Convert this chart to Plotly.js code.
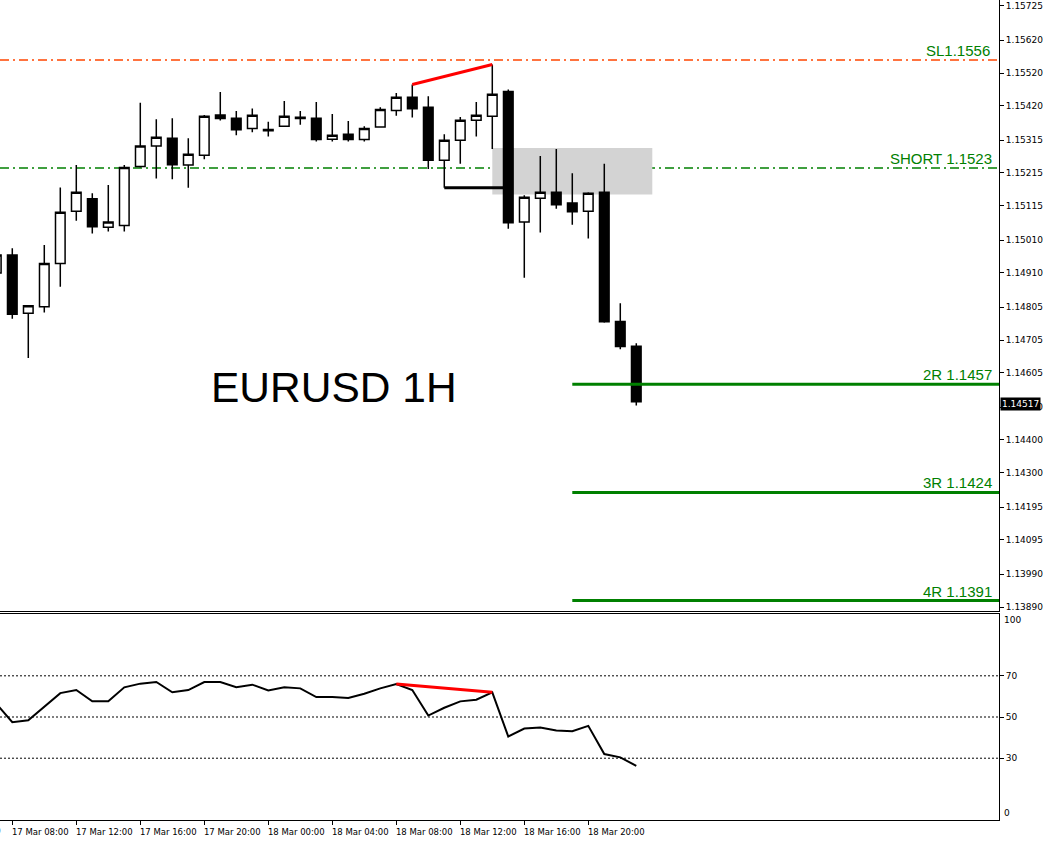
<!DOCTYPE html>
<html>
<head>
<meta charset="utf-8">
<script src="https://cdn.plot.ly/plotly-3.0.1.min.js"></script>
<style>
html,body{margin:0;padding:0;background:#fff;}
#chart{width:1044px;height:841px;}
</style>
</head>
<body>
<div id="chart"></div>
<script>
// ---- Data (EURUSD H1, 17 Mar 07:00 .. 18 Mar 23:00) ----
const times = [
  "2025-03-17 07:00","2025-03-17 08:00","2025-03-17 09:00","2025-03-17 10:00","2025-03-17 11:00",
  "2025-03-17 12:00","2025-03-17 13:00","2025-03-17 14:00","2025-03-17 15:00","2025-03-17 16:00",
  "2025-03-17 17:00","2025-03-17 18:00","2025-03-17 19:00","2025-03-17 20:00","2025-03-17 21:00",
  "2025-03-17 22:00","2025-03-17 23:00","2025-03-18 00:00","2025-03-18 01:00","2025-03-18 02:00",
  "2025-03-18 03:00","2025-03-18 04:00","2025-03-18 05:00","2025-03-18 06:00","2025-03-18 07:00",
  "2025-03-18 08:00","2025-03-18 09:00","2025-03-18 10:00","2025-03-18 11:00","2025-03-18 12:00",
  "2025-03-18 13:00","2025-03-18 14:00","2025-03-18 15:00","2025-03-18 16:00","2025-03-18 17:00",
  "2025-03-18 18:00","2025-03-18 19:00","2025-03-18 20:00","2025-03-18 21:00","2025-03-18 22:00",
  "2025-03-18 23:00"
];
const openP = [
  1.14910,1.14965,1.14787,1.14807,1.14939,1.15098,1.15136,1.15049,1.15055,1.15235,
  1.15297,1.15321,1.15239,1.15269,1.15392,1.15382,1.15351,1.15348,1.15358,1.15385,
  1.15382,1.15318,1.15333,1.15317,1.15355,1.15406,1.15446,1.15416,1.15254,1.15315,
  1.15376,1.15388,1.15464,1.15065,1.15138,1.15156,1.15123,1.15098,1.15156,1.14762,
  1.14686
];
const highP = [
  1.14980,1.14985,1.14812,1.14995,1.15171,1.15239,1.15153,1.15178,1.15239,1.15429,
  1.15379,1.15382,1.15321,1.15392,1.15462,1.15404,1.15412,1.15371,1.15435,1.15404,
  1.15432,1.15395,1.15374,1.15358,1.15416,1.15459,1.15485,1.15449,1.15333,1.15386,
  1.15432,1.15546,1.15470,1.15147,1.15267,1.15288,1.15214,1.15156,1.15243,1.14817,
  1.14695
];
const lowP = [
  1.14904,1.14770,1.14650,1.14789,1.14868,1.15069,1.15030,1.15036,1.15036,1.15232,
  1.15198,1.15196,1.15170,1.15257,1.15375,1.15330,1.15339,1.15326,1.15358,1.15362,
  1.15311,1.15311,1.15311,1.15311,1.15355,1.15390,1.15384,1.15227,1.15170,1.15243,
  1.15326,1.15288,1.15045,1.14895,1.15033,1.15106,1.15057,1.15015,1.14758,1.14677,
  1.14505
];
const closeP = [
  1.14965,1.14784,1.14810,1.14939,1.15095,1.15156,1.15051,1.15065,1.15232,1.15297,
  1.15324,1.15240,1.15272,1.15388,1.15381,1.15347,1.15391,1.15344,1.15388,1.15381,
  1.15317,1.15330,1.15317,1.15351,1.15409,1.15446,1.15411,1.15254,1.15315,1.15376,
  1.15391,1.15455,1.15063,1.15141,1.15156,1.15118,1.15097,1.15153,1.14761,1.14685,
  1.14517
];
const rsiVals = [
  56.5,47.5,48.4,55.1,61.6,63.1,57.6,57.6,64.4,66.2,
  67.0,62.0,63.1,67.0,67.0,64.5,65.7,62.9,64.4,63.9,
  59.7,59.7,59.2,61.3,63.9,66.0,63.1,50.7,54.5,57.6,
  58.4,62.0,40.5,44.4,44.9,43.4,43.1,45.7,32.0,30.4,
  26.3
];
const priceTicks = [1.15725,1.15620,1.15520,1.15420,1.15315,1.15215,1.15115,1.15010,1.14910,
  1.14805,1.14705,1.14605,1.14500,1.14400,1.14300,1.14195,1.14095,1.13990,1.13890];
const priceTickText = priceTicks.map(v => v.toFixed(5));
const timeTicks = ["2025-03-17 08:00","2025-03-17 12:00","2025-03-17 16:00","2025-03-17 20:00",
  "2025-03-18 00:00","2025-03-18 04:00","2025-03-18 08:00","2025-03-18 12:00","2025-03-18 16:00","2025-03-18 20:00"];
const timeTickText = ["17 Mar 08:00","17 Mar 12:00","17 Mar 16:00","17 Mar 20:00",
  "18 Mar 00:00","18 Mar 04:00","18 Mar 08:00","18 Mar 12:00","18 Mar 16:00","18 Mar 20:00"];
const rsiLevels = [70, 50, 30];

// trade levels
const slLevel = 1.1556, shortLevel = 1.1523;
const targetLevels = [1.1457, 1.1424, 1.1391];
const targetNames = ["2R 1.1457", "3R 1.1424", "4R 1.1391"];
const lastPrice = 1.14517;
const zoneTop = 1.15291, zoneBottom = 1.15149;
const zoneStart = "2025-03-18 14:00", zoneEnd = "2025-03-19 00:00";
const divTop = {t0: "2025-03-18 09:00", p0: 1.15485, t1: "2025-03-18 14:00", p1: 1.15546};
const neckLine = {t0: "2025-03-18 11:00", t1: "2025-03-18 15:00", p: 1.15170};
const rsiDiv = {t0: "2025-03-18 08:00", v0: 66.0, t1: "2025-03-18 14:00", v1: 62.0};
const targetStart = "2025-03-18 19:00";

const xRange = ["2025-03-17 07:13:54", "2025-03-19 21:40:09"];
const tickFont = {family: "DejaVu Sans, Verdana, sans-serif", size: 8.5, color: "#000"};
const yTickFont = {family: "DejaVu Sans, Verdana, sans-serif", size: 9, color: "#000"};
const green = "#008000";

const traces = [
  {
    type: "candlestick", x: times, open: openP, high: highP, low: lowP, close: closeP,
    xaxis: "x2", yaxis: "y",
    increasing: {line: {color: "#000", width: 1.5}, fillcolor: "#ffffff"},
    decreasing: {line: {color: "#000", width: 1.5}, fillcolor: "#000000"},
    whiskerwidth: 0, hoverinfo: "skip", showlegend: false
  },
  {
    type: "scatter", mode: "lines", x: times, y: rsiVals, xaxis: "x", yaxis: "y2",
    line: {color: "#000", width: 2}, hoverinfo: "skip", showlegend: false
  }
];

const shapes = [];
shapes.push({type: "rect", xref: "x2", yref: "y", x0: zoneStart, x1: zoneEnd, y0: zoneBottom, y1: zoneTop,
  fillcolor: "#d3d3d3", line: {width: 0}, layer: "below"});
shapes.push({type: "line", xref: "paper", yref: "y", x0: 0, x1: 1, y0: slLevel, y1: slLevel,
  line: {color: "#ff4500", width: 1.5, dash: "9px,4px,2px,4px"}, layer: "below"});
shapes.push({type: "line", xref: "paper", yref: "y", x0: 0, x1: 1, y0: shortLevel, y1: shortLevel,
  line: {color: green, width: 1.5, dash: "9px,4px,2px,4px"}, layer: "below"});
targetLevels.forEach(v => shapes.push({type: "line", xref: "x2", yref: "y", x0: targetStart, x1: "2025-03-21 00:00",
  y0: v, y1: v, line: {color: green, width: 3}}));
shapes.push({type: "line", xref: "x2", yref: "y", x0: divTop.t0, x1: divTop.t1, y0: divTop.p0, y1: divTop.p1,
  line: {color: "#ff0000", width: 3}});
shapes.push({type: "line", xref: "x2", yref: "y", x0: neckLine.t0, x1: neckLine.t1, y0: neckLine.p, y1: neckLine.p,
  line: {color: "#000", width: 3}});
rsiLevels.forEach(v => shapes.push({type: "line", xref: "paper", yref: "y2", x0: 0, x1: 1, y0: v, y1: v,
  line: {color: "#000", width: 1, dash: "2px,2px"}, layer: "below"}));
shapes.push({type: "line", xref: "x", yref: "y2", x0: rsiDiv.t0, x1: rsiDiv.t1, y0: rsiDiv.v0, y1: rsiDiv.v1,
  line: {color: "#ff0000", width: 3}});

const annotations = [];
annotations.push({xref: "paper", yref: "paper", x: 0.2092, y: 0.528, xanchor: "left", yanchor: "middle",
  text: "EURUSD 1H", showarrow: false, font: {family: "Liberation Sans, Arial, sans-serif", size: 42.5, color: "#000"}});
const lblFont = {family: "Liberation Sans, Arial, sans-serif", size: 15, color: green};
annotations.push({xref: "paper", yref: "y", x: 0.9925, y: slLevel, xanchor: "right", yanchor: "bottom",
  text: "SL1.1556", showarrow: false, font: lblFont, yshift: -1});
annotations.push({xref: "paper", yref: "y", x: 0.995, y: shortLevel, xanchor: "right", yanchor: "bottom",
  text: "SHORT 1.1523", showarrow: false, font: lblFont, yshift: -1});
targetLevels.forEach((v, i) => annotations.push({xref: "paper", yref: "y", x: 0.995, y: v, xanchor: "right",
  yanchor: "bottom", text: targetNames[i], showarrow: false, font: lblFont, yshift: -1}));
annotations.push({xref: "paper", yref: "y", x: 1, y: lastPrice, xanchor: "left", yanchor: "middle", xshift: 1, yshift: -2,
  text: lastPrice.toFixed(5), showarrow: false, bgcolor: "#000", borderpad: 1,
  font: {family: "DejaVu Sans, Verdana, sans-serif", size: 9, color: "#fff"}});
annotations.push({xref: "paper", yref: "y2", x: 1, y: 97, xanchor: "left", yanchor: "middle", xshift: 3,
  text: "100", showarrow: false, font: yTickFont});
annotations.push({xref: "paper", yref: "y2", x: 1, y: 3.4, xanchor: "left", yanchor: "middle", xshift: 3,
  text: "0", showarrow: false, font: yTickFont});
annotations.push({xref: "paper", yref: "paper", x: 0.003, y: 0, xanchor: "right", yanchor: "top", yshift: -4,
  text: "17 Mar 04:00", showarrow: false, font: tickFont});

const layout = {
  width: 1044, height: 841,
  margin: {l: 0, r: 45, t: 0, b: 21, pad: 0},
  paper_bgcolor: "#fff", plot_bgcolor: "#fff",
  showlegend: false,
  boxgap: 0.4, boxgroupgap: 0,
  xaxis: {
    type: "date", domain: [0, 1], anchor: "y2", range: xRange,
    tickmode: "array", tickvals: timeTicks, ticktext: timeTickText,
    ticks: "outside", ticklen: 4, tickcolor: "#000", tickwidth: 1,
    showline: true, linecolor: "#000", linewidth: 1, mirror: true,
    showgrid: false, zeroline: false, tickfont: tickFont, ticklabelshift: 28,
    rangeslider: {visible: false}, fixedrange: true
  },
  xaxis2: {
    type: "date", domain: [0, 1], anchor: "y", matches: "x", range: xRange,
    showticklabels: false, ticks: "", showline: true, linecolor: "#000", linewidth: 1,
    showgrid: false, zeroline: false, rangeslider: {visible: false}, fixedrange: true
  },
  yaxis: {
    domain: [0.2549, 1], anchor: "x2", side: "right", range: [1.13878, 1.15743],
    tickmode: "array", tickvals: priceTicks, ticktext: priceTickText,
    ticks: "outside", ticklen: 4, tickcolor: "#000",
    showline: true, linecolor: "#000", linewidth: 1,
    showgrid: false, zeroline: false, tickfont: yTickFont, fixedrange: true
  },
  yaxis2: {
    domain: [0, 0.2512], anchor: "x", side: "right", range: [0, 100],
    tickmode: "array", tickvals: rsiLevels, ticktext: rsiLevels.map(String),
    ticks: "outside", ticklen: 4, tickcolor: "#000",
    showline: true, linecolor: "#000", linewidth: 1,
    showgrid: false, zeroline: false, tickfont: yTickFont, fixedrange: true
  },
  shapes: shapes,
  annotations: annotations
};

Plotly.newPlot("chart", traces, layout, {staticPlot: true, displayModeBar: false});
</script>
</body>
</html>
